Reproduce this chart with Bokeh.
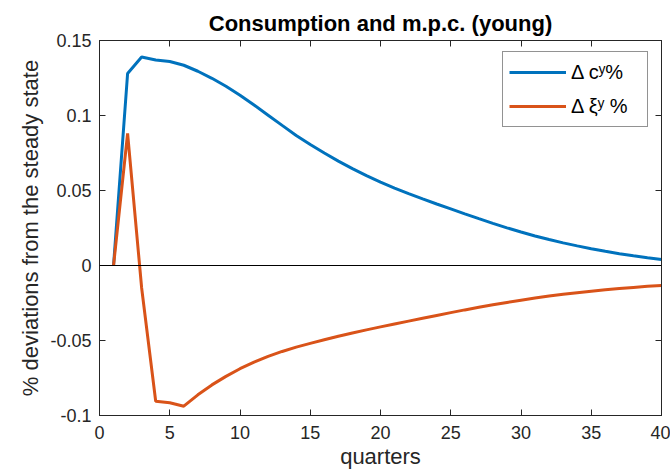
from bokeh.plotting import figure
from bokeh.models import Range1d, FixedTicker, LinearAxis, Span, Legend, LegendItem
from bokeh.embed import file_html
from bokeh.resources import INLINE

# Impulse responses of the young, in % deviations from the steady state
quarters = list(range(1, 41))
cons_young = [
    0.0, 0.128, 0.139, 0.137, 0.136, 0.1335, 0.1295, 0.1248, 0.1195, 0.1135,
    0.107, 0.1002, 0.0934, 0.0867, 0.0807, 0.075, 0.0696, 0.0646, 0.0599, 0.0556,
    0.0516, 0.0479, 0.0444, 0.041, 0.0377, 0.0344, 0.0312, 0.0281, 0.0251, 0.0223,
    0.0197, 0.0173, 0.0151, 0.0131, 0.0112, 0.0095, 0.0079, 0.0065, 0.0052, 0.004,
]
mpc_young = [
    0.0, 0.088, -0.015, -0.0905, -0.0915, -0.0938, -0.0862, -0.0796, -0.0739, -0.0688,
    -0.0644, -0.0606, -0.0573, -0.0544, -0.0519, -0.0495, -0.0472, -0.045, -0.0429, -0.0409,
    -0.039, -0.0371, -0.0352, -0.0333, -0.0314, -0.0296, -0.0279, -0.0262, -0.0246, -0.0231,
    -0.0217, -0.0204, -0.0192, -0.0181, -0.0171, -0.0162, -0.0154, -0.0146, -0.0139, -0.0133,
]

x_ticks = [0, 5, 10, 15, 20, 25, 30, 35, 40]
y_ticks = [-0.1, -0.05, 0, 0.05, 0.1, 0.15]
y_tick_labels = ["-0.1", "-0.05", "0", "0.05", "0.1", "0.15"]

BLUE = "#0072BD"
ORANGE = "#D95319"
AXIS = "#262626"
FONT = "Liberation Sans"

p = figure(
    width=670, height=475,
    x_range=Range1d(0, 40), y_range=Range1d(-0.1, 0.15),
    output_backend="svg", toolbar_location=None,
    min_border_left=99, min_border_right=9, min_border_top=40, min_border_bottom=60,
)
p.background_fill_color = "white"
p.border_fill_color = "white"
p.outline_line_color = AXIS
p.xgrid.visible = False
p.ygrid.visible = False

p.title.text = "Consumption and m.p.c. (young)"
p.title.align = "center"
p.title.text_font = FONT
p.title.text_font_size = "22px"
p.title.text_font_style = "bold"
p.title.text_color = "black"
p.title.standoff = 10
p.title.offset = 0


def style_axis(ax, ticks):
    ax.ticker = FixedTicker(ticks=ticks)
    ax.axis_line_color = AXIS
    ax.major_tick_line_color = AXIS
    ax.major_tick_in = 6
    ax.major_tick_out = 0
    ax.minor_tick_line_color = None
    ax.major_label_text_font = FONT
    ax.major_label_text_color = AXIS
    ax.major_label_text_font_size = "18px"
    ax.axis_label_text_font = FONT
    ax.axis_label_text_font_size = "22px"
    ax.axis_label_text_font_style = "normal"
    ax.axis_label_text_color = AXIS


xa = p.xaxis[0]
style_axis(xa, x_ticks)
xa.axis_label = "quarters"
xa.major_label_standoff = 10
xa.axis_label_standoff = 2

ya = p.yaxis[0]
style_axis(ya, y_ticks)
ya.axis_label = "% deviations from the steady state"
ya.major_label_overrides = {t: s for t, s in zip(y_ticks, y_tick_labels)}
ya.major_label_standoff = 8
ya.axis_label_standoff = 4

# Boxed axes: tick marks along the top and right edges, with blank labels
top = LinearAxis()
style_axis(top, x_ticks)
top.major_label_overrides = {t: "" for t in x_ticks}
top.major_label_standoff = 0
p.add_layout(top, "above")

right = LinearAxis()
style_axis(right, y_ticks)
right.major_label_overrides = {t: "" for t in y_ticks}
right.major_label_standoff = 0
p.add_layout(right, "right")

p.add_layout(Span(location=0, dimension="width", line_color="black", line_width=1))

r_c = p.line(quarters, cons_young, line_color=BLUE, line_width=3)
r_m = p.line(quarters, mpc_young, line_color=ORANGE, line_width=3)

legend = Legend(
    items=[LegendItem(label="Δ cʸ%", renderers=[r_c]),
           LegendItem(label="Δ ξʸ %", renderers=[r_m])],
    location=(403, 288),
    padding=6, spacing=6, margin=0,
    glyph_width=57, glyph_height=28, label_height=28, label_width=70,
    label_standoff=5,
    label_text_font=FONT, label_text_font_size="20px", label_text_color="black",
    border_line_color=AXIS, border_line_width=1,
    background_fill_color="white", background_fill_alpha=1,
)
p.add_layout(legend, "center")

open("out.html", "w").write(file_html(p, INLINE))
